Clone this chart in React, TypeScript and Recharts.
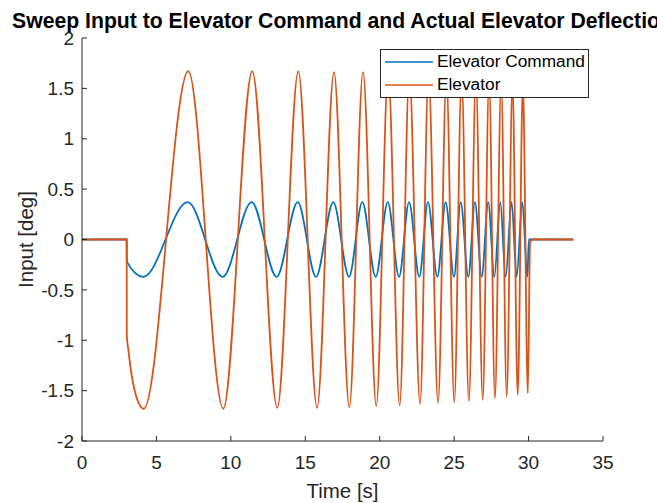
import { LineChart, Line, XAxis, YAxis, Legend } from 'recharts'

// extrema of the sweep plus the step edges
const cmdTimes = [0, 3.0, 3.01, 4.12, 7.1, 9.45, 11.4, 13.08, 14.49, 15.72, 16.88, 17.94, 18.83, 19.73, 20.54, 21.3, 21.97, 22.66, 23.24, 23.87, 24.43, 24.99, 25.44, 25.95, 26.4, 26.85, 27.29, 27.7, 28.1, 28.46, 28.86, 29.2, 29.58, 29.92, 30.02, 33.0]
const cmdValues = [0, 0, -0.22, -0.37, 0.37, -0.37, 0.37, -0.37, 0.37, -0.37, 0.37, -0.37, 0.37, -0.37, 0.37, -0.37, 0.37, -0.37, 0.37, -0.37, 0.37, -0.37, 0.37, -0.37, 0.37, -0.37, 0.37, -0.37, 0.37, -0.37, 0.37, -0.37, 0.37, -0.37, 0, 0]

const elevTimes = [0, 3.0, 3.01, 3.12, 3.34, 3.67, 4.15, 7.14, 9.49, 11.44, 13.12, 14.53, 15.79, 16.93, 17.96, 18.88, 19.77, 20.57, 21.34, 21.99, 22.71, 23.28, 23.92, 24.48, 25.01, 25.5, 25.99, 26.46, 26.92, 27.35, 27.74, 28.16, 28.53, 28.92, 29.27, 29.62, 29.95, 30.1, 30.25, 33.0]
const elevValues = [0, 0, -0.95, -1.1, -1.35, -1.57, -1.68, 1.67, -1.68, 1.67, -1.67, 1.67, -1.67, 1.66, -1.666, 1.66, -1.653, 1.65, -1.646, 1.64, -1.633, 1.63, -1.626, 1.62, -1.616, 1.61, -1.606, 1.6, -1.593, 1.59, -1.576, 1.57, -1.56, 1.55, -1.543, 1.54, -1.527, -0.04, 0, 0]

const seriesNames = ['Elevator Command', 'Elevator']
const xTicks = [0, 5, 10, 15, 20, 25, 30, 35]
const yTicks = [-2, -1.5, -1, -0.5, 0, 0.5, 1, 1.5, 2]

const cmdData = cmdTimes.map((t, i) => ({ t, v: cmdValues[i] }))
const elevData = elevTimes.map((t, i) => ({ t, v: elevValues[i] }))

const FONT = '"Liberation Sans", Arial, Helvetica, sans-serif'
const INK = '#262626'

function LegendBox({ payload }: any) {
  const items = seriesNames
    .map((n) => (payload || []).find((p: any) => p.value === n))
    .filter(Boolean)
  return (
    <div style={{ border: `1px solid ${INK}`, background: '#fff', width: 207, height: 47, boxSizing: 'content-box', fontFamily: FONT, fontSize: 17.3, color: '#000' }}>
      {items.map((p: any, i: number) => (
        <div key={i} style={{ display: 'flex', alignItems: 'center', height: 23 }}>
          <svg width={56} height={10} style={{ flex: 'none' }}>
            <line x1={4} x2={52} y1={5} y2={5} stroke={p.color} strokeWidth={1.7} />
          </svg>
          <span style={{ whiteSpace: 'nowrap' }}>{p.value}</span>
        </div>
      ))}
    </div>
  )
}

export default function App() {
  return (
    <div style={{ position: 'absolute', left: 0, top: 0, width: 657, height: 503, overflow: 'hidden', background: '#fff' }}>
      <div style={{ position: 'absolute', left: 342.5 - 500, top: 10, width: 1000, textAlign: 'center', fontFamily: FONT, fontWeight: 'bold', fontSize: 21.2, lineHeight: '21px', color: '#000', whiteSpace: 'nowrap' }}>
        Sweep Input to Elevator Command and Actual Elevator Deflection
      </div>
      <LineChart width={657} height={503} margin={{ top: 38, right: 54, bottom: 0, left: 0 }}>
        <XAxis
          dataKey="t"
          type="number"
          domain={[0, 35]}
          ticks={xTicks}
          height={62}
          tickSize={-5}
          tickMargin={20}
          stroke={INK}
          tick={{ fill: INK, fontSize: 19, fontFamily: FONT }}
          label={{ value: 'Time [s]', position: 'insideBottom', offset: 5, fill: INK, fontSize: 20.5, fontFamily: FONT }}
        />
        <XAxis xAxisId="top" orientation="top" type="number" domain={[0, 35]} ticks={xTicks} height={0} tickSize={-5} tick={false} stroke={INK} />
        <YAxis
          type="number"
          domain={[-2, 2]}
          ticks={yTicks}
          width={82}
          tickSize={-5}
          tickMargin={13}
          stroke={INK}
          tick={{ fill: INK, fontSize: 19, fontFamily: FONT }}
          label={{ value: 'Input [deg]', angle: -90, position: 'insideLeft', offset: 26, fill: INK, fontSize: 20.5, fontFamily: FONT, style: { textAnchor: 'middle' } }}
        />
        <YAxis yAxisId="right" orientation="right" type="number" domain={[-2, 2]} ticks={yTicks} width={0} tickSize={-5} tick={false} stroke={INK} />
        <Legend
          layout="vertical"
          align="center"
          verticalAlign="middle"
          content={<LegendBox />}
          wrapperStyle={{ left: 380, top: 49, width: 'auto', height: 'auto' }}
        />
        <Line data={cmdData} dataKey="v" name="Elevator Command" type="monotone" stroke="#0072BD" strokeWidth={1.8} dot={false} isAnimationActive={false} />
        <Line data={elevData} dataKey="v" name="Elevator" type="monotone" stroke="#D95319" strokeWidth={1.8} dot={false} isAnimationActive={false} />
      </LineChart>
    </div>
  )
}
